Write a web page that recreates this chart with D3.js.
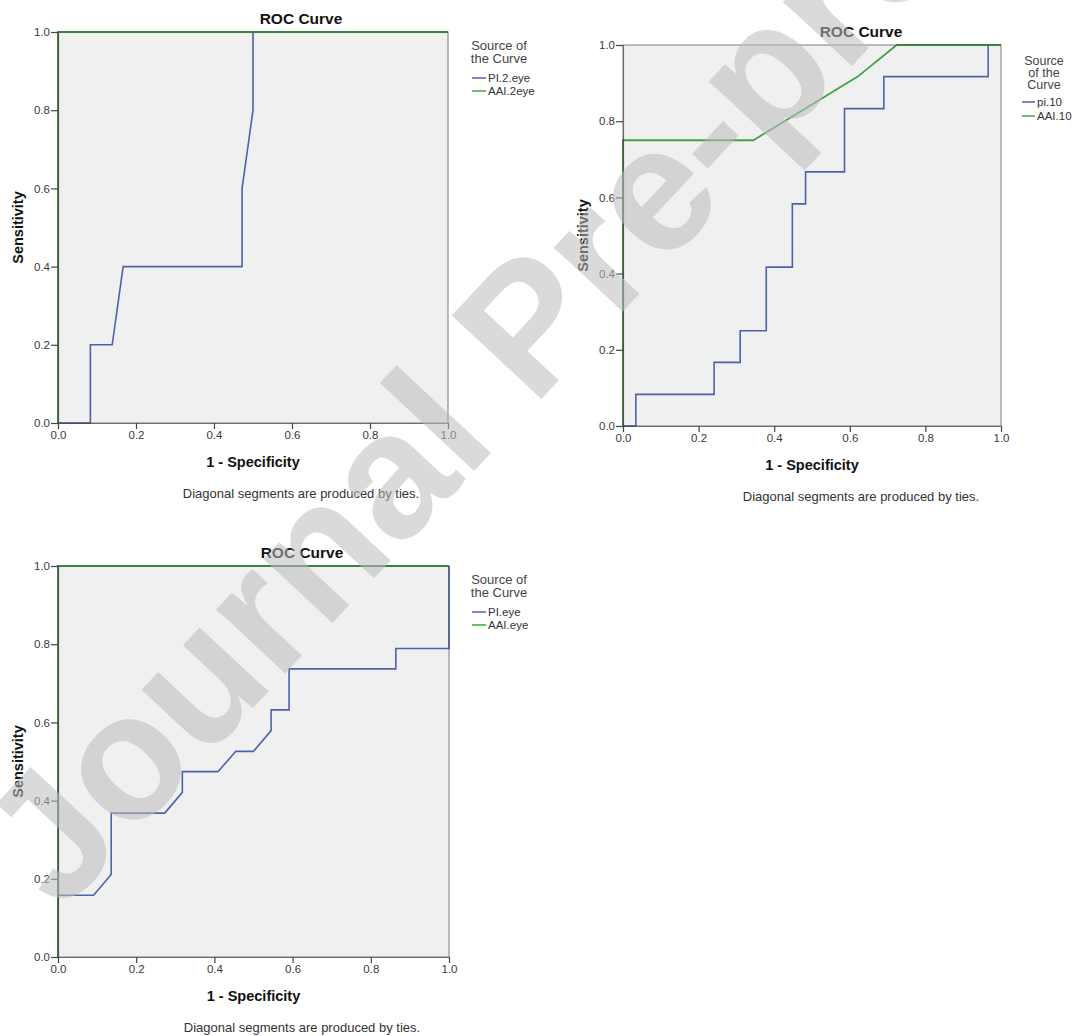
<!DOCTYPE html>
<html>
<head>
<meta charset="utf-8">
<script src="https://cdn.jsdelivr.net/npm/d3@7/dist/d3.min.js"></script>
<style>
  html, body { margin: 0; padding: 0; background: #ffffff; }
  svg { display: block; }
  text { font-family: "Liberation Sans", Arial, Helvetica, sans-serif; }
</style>
</head>
<body>
<svg id="chart" width="1073" height="1036"></svg>
<script>
// ---------------- data ----------------
const tickValues = [0.0, 0.2, 0.4, 0.6, 0.8, 1.0];
const chartTitle = "ROC Curve";
const xAxisTitle = "1 - Specificity";
const yAxisTitle = "Sensitivity";
const footnote = "Diagonal segments are produced by ties.";

// Panel 1 (top-left)
const p1Names = ["PI.2.eye", "AAI.2eye"];
const p1BlueX = [0, 0.083, 0.083, 0.139, 0.167, 0.472, 0.472, 0.5, 0.5, 1.0];
const p1BlueY = [0, 0,     0.2,   0.2,   0.4,   0.4,   0.6,   0.8, 1.0, 1.0];
const p1GreenX = [0, 0, 1.0];
const p1GreenY = [0, 1.0, 1.0];

// Panel 2 (top-right)
const p2Names = ["pi.10", "AAI.10"];
const p2BlueX = [0, 0.034, 0.034, 0.241, 0.241, 0.310, 0.310, 0.379, 0.379, 0.448, 0.448, 0.483, 0.483, 0.586, 0.586, 0.690, 0.690, 0.966, 0.966, 1.0];
const p2BlueY = [0, 0,     0.083, 0.083, 0.167, 0.167, 0.25,  0.25,  0.417, 0.417, 0.583, 0.583, 0.667, 0.667, 0.833, 0.833, 0.917, 0.917, 1.0,   1.0];
const p2GreenX = [0, 0,    0.345, 0.621, 0.724, 1.0];
const p2GreenY = [0, 0.75, 0.75,  0.917, 1.0,   1.0];

// Panel 3 (bottom-left)
const p3Names = ["PI.eye", "AAI.eye"];
const p3BlueX = [0, 0,     0.091, 0.136, 0.136, 0.273, 0.318, 0.318, 0.409, 0.455, 0.500, 0.545, 0.545, 0.591, 0.591, 0.864, 0.864, 1.0,   1.0];
const p3BlueY = [0, 0.158, 0.158, 0.211, 0.368, 0.368, 0.421, 0.474, 0.474, 0.526, 0.526, 0.579, 0.632, 0.632, 0.737, 0.737, 0.789, 0.789, 1.0];
const p3GreenX = [0, 0, 1.0];
const p3GreenY = [0, 1.0, 1.0];

const watermarkText = "Journal Pre-proof";

// ---------------- layout ----------------
const BLUE = "#4e62ab";
const GREEN = "#3fa34a";
const FRAME = "#3a3a3a";
const PLOTBG = "#f0f0f0";

const panels = [
  { left: 58, top: 32, w: 390, h: 391, names: p1Names,
    blue: d3.zip(p1BlueX, p1BlueY), green: d3.zip(p1GreenX, p1GreenY),
    titleDx: 243, legTitle: ["Source of", "the Curve"], legTitleDy: [13, 26], legItemDy: [46, 59],
    legCx: 441, legLine: [414, 428], legText: 430, legFont: 13 },
  { left: 623, top: 45, w: 378, h: 381, names: p2Names,
    blue: d3.zip(p2BlueX, p2BlueY), green: d3.zip(p2GreenX, p2GreenY),
    titleDx: 238, legTitle: ["Source", "of the", "Curve"], legTitleDy: [16, 28, 40], legItemDy: [57, 71],
    legCx: 421, legLine: [399, 412], legText: 414, legFont: 12.5 },
  { left: 58, top: 566, w: 391, h: 391, names: p3Names,
    blue: d3.zip(p3BlueX, p3BlueY), green: d3.zip(p3GreenX, p3GreenY),
    titleDx: 244, legTitle: ["Source of", "the Curve"], legTitleDy: [13, 26], legItemDy: [46, 59],
    legCx: 441, legLine: [414, 428], legText: 430, legFont: 13 }
];

const svg = d3.select("#chart");

panels.forEach(p => {
  const g = svg.append("g").attr("transform", `translate(${p.left},${p.top})`);
  const x = d3.scaleLinear().domain([0, 1]).range([0, p.w]);
  const y = d3.scaleLinear().domain([0, 1]).range([p.h, 0]);

  g.append("rect").attr("x", 0).attr("y", 0).attr("width", p.w).attr("height", p.h)
    .attr("fill", PLOTBG);

  const line = d3.line().x(d => x(d[0])).y(d => y(d[1]));

  g.append("path").datum(p.blue).attr("d", line)
    .attr("fill", "none").attr("stroke", BLUE).attr("stroke-width", 1.6);
  g.append("path").datum(p.green).attr("d", line)
    .attr("fill", "none").attr("stroke", GREEN).attr("stroke-width", 1.8);

  // frame
  g.append("rect").attr("x", 0).attr("y", 0).attr("width", p.w).attr("height", p.h)
    .attr("fill", "none").attr("stroke", FRAME).attr("stroke-opacity", 0.55).attr("stroke-width", 1.2);

  // axes
  const fmt = d3.format(".1f");
  const yAxis = g.append("g").call(d3.axisLeft(y).tickValues(tickValues).tickFormat(fmt).tickSize(7).tickSizeOuter(0).tickPadding(1));
  const xAxis = g.append("g").attr("transform", `translate(0,${p.h})`)
    .call(d3.axisBottom(x).tickValues(tickValues).tickFormat(fmt).tickSize(6).tickSizeOuter(0).tickPadding(2));
  [xAxis, yAxis].forEach(a => {
    a.select(".domain").attr("stroke", FRAME).attr("stroke-opacity", 0.6).attr("stroke-width", 1.2);
    a.selectAll(".tick line").attr("stroke", "#444").attr("stroke-width", 1.2);
    a.selectAll(".tick text").attr("fill", "#3a3a3a").style("font-size", "11.5px")
      .style("font-family", '"Liberation Sans", Arial, sans-serif');
  });

  // titles
  g.append("text").attr("x", p.titleDx).attr("y", -14).attr("text-anchor", "middle")
    .attr("dominant-baseline", "central").style("font-size", "15.5px").style("font-weight", "bold")
    .attr("fill", "#111").text(chartTitle);
  g.append("text").attr("x", p.w / 2).attr("y", p.h + 39).attr("text-anchor", "middle")
    .attr("dominant-baseline", "central").style("font-size", "14.5px").style("font-weight", "bold")
    .attr("fill", "#111").text(xAxisTitle);
  g.append("text").attr("transform", `translate(-40,${p.h / 2}) rotate(-90)`).attr("text-anchor", "middle")
    .attr("dominant-baseline", "central").style("font-size", "14.5px").style("font-weight", "bold")
    .attr("fill", "#111").text(yAxisTitle);
  g.append("text").attr("x", p.titleDx).attr("y", p.h + 70).attr("text-anchor", "middle")
    .attr("dominant-baseline", "central").style("font-size", "13px")
    .attr("fill", "#333").text(footnote);

  // legend
  p.legTitle.forEach((t, i) => {
    g.append("text").attr("x", p.legCx).attr("y", p.legTitleDy[i]).attr("text-anchor", "middle")
      .attr("dominant-baseline", "central").style("font-size", p.legFont + "px")
      .attr("fill", "#444").text(t);
  });
  const colors = [BLUE, GREEN];
  p.names.forEach((n, i) => {
    const yy = p.legItemDy[i];
    g.append("line").attr("x1", p.legLine[0]).attr("x2", p.legLine[1]).attr("y1", yy).attr("y2", yy)
      .attr("stroke", colors[i]).attr("stroke-width", 1.5);
    g.append("text").attr("x", p.legText).attr("y", yy).attr("dominant-baseline", "central")
      .style("font-size", "11.5px").attr("fill", "#333").text(n);
  });
});

// watermark
svg.append("g").attr("opacity", 0.55)
  .append("text")
  .attr("transform", "translate(61,914) rotate(-47)")
  .style("font-size", "178px").style("font-weight", "bold")
  .attr("fill", "#bdbdbd")
  .text(watermarkText);
</script>
</body>
</html>
